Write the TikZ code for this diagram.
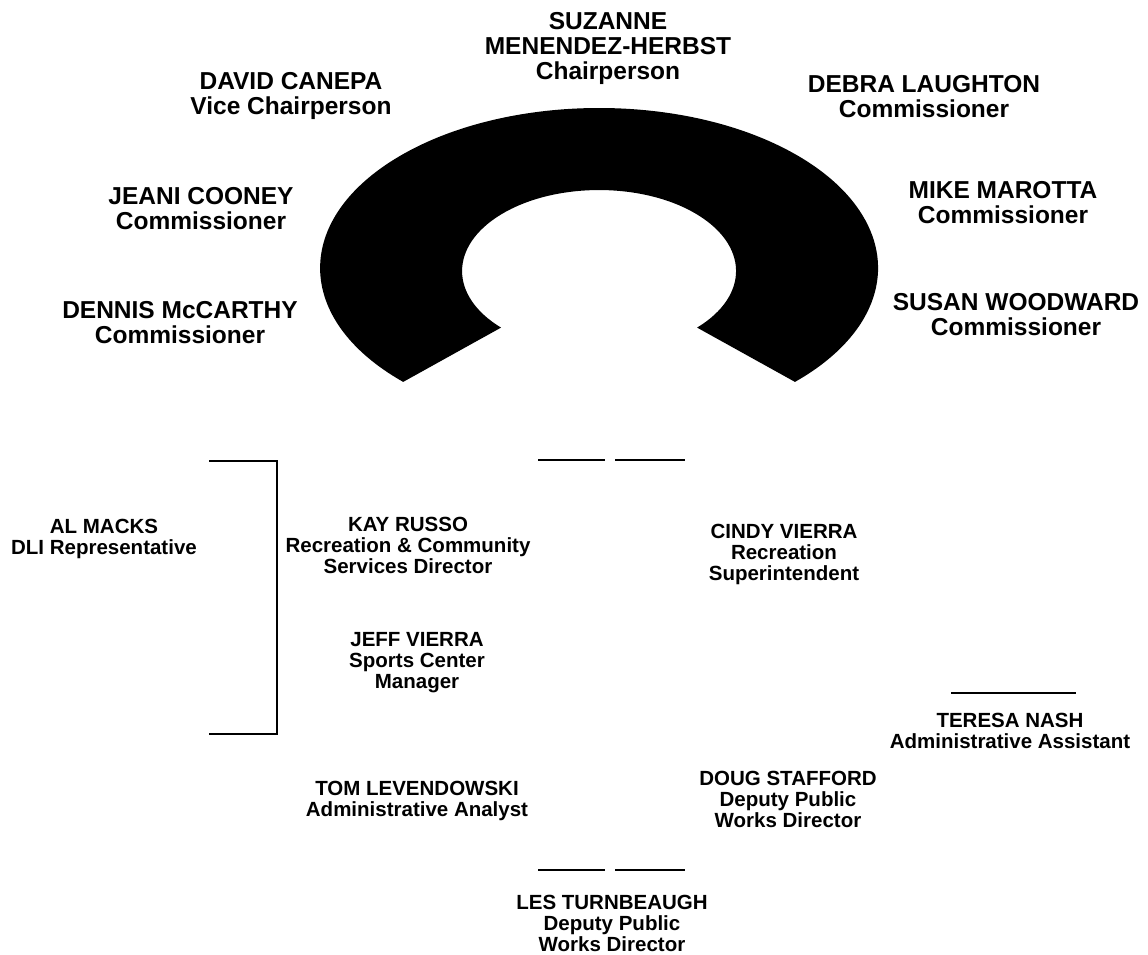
\documentclass[tikz,border=0pt]{standalone}
\usepackage{fontspec}
\setmainfont{Liberation Sans}
\begin{document}
\begin{tikzpicture}[x=1pt,y=-1pt,
  big/.style={font=\fontsize{24.5}{25}\selectfont\bfseries, align=center, inner sep=0pt, anchor=north},
  small/.style={font=\fontsize{20.5}{21}\selectfont\bfseries, align=center, inner sep=0pt, anchor=north},
  rule/.style={line width=2pt, line cap=butt}]
\useasboundingbox (0,0) rectangle (1148,954);
% horseshoe
\fill[black] (403.2,381.9) arc[start angle=134.6, end angle=405.4, x radius=279, y radius=160]
  -- (697.1,327.6) arc[start angle=44.3, end angle=-224.3, x radius=137, y radius=81] -- cycle;
% commission
\node[big] (suz) at (608,12) {SUZANNE\\MENENDEZ-HERBST\\Chairperson};
\node[big] (david) at (291,72) {DAVID CANEPA\\Vice Chairperson};
\node[big] (debra) at (924,75) {DEBRA LAUGHTON\\Commissioner};
\node[big] (jeani) at (201,187) {JEANI COONEY\\Commissioner};
\node[big] (mike) at (1003,181) {MIKE MAROTTA\\Commissioner};
\node[big] (dennis) at (180,301) {DENNIS McCARTHY\\Commissioner};
\node[big] (susan) at (1016,293) {SUSAN WOODWARD\\Commissioner};
% staff
\node[small] (al) at (104,518.5) {AL MACKS\\DLI Representative};
\node[small] (kay) at (408,516.5) {KAY RUSSO\\Recreation \& Community\\Services Director};
\node[small] (jeff) at (417,632.5) {JEFF VIERRA\\Sports Center\\Manager};
\node[small] (cindy) at (784,523.5) {CINDY VIERRA\\Recreation\\Superintendent};
\node[small] (teresa) at (1010,712.5) {TERESA NASH\\Administrative Assistant};
\node[small] (tom) at (417,780.5) {TOM LEVENDOWSKI\\Administrative Analyst};
\node[small] (doug) at (788,770.5) {DOUG STAFFORD\\Deputy Public\\Works Director};
\node[small] (les) at (612,894.5) {LES TURNBEAUGH\\Deputy Public\\Works Director};
% lines
\coordinate (brTL) at (209,461);
\coordinate (brTR) at (277,461);
\coordinate (brBR) at (277,734);
\coordinate (brBL) at (209,734);
\draw[rule] (brTL) -- (brTR) -- (brBR) -- (brBL);
\coordinate (t1a) at (538,460); \coordinate (t1b) at (605,460);
\coordinate (t2a) at (615,460); \coordinate (t2b) at (685,460);
\draw[rule] (t1a) -- (t1b);
\draw[rule] (t2a) -- (t2b);
\coordinate (n1a) at (951,693); \coordinate (n1b) at (1076,693);
\draw[rule] (n1a) -- (n1b);
\coordinate (b1a) at (538,870); \coordinate (b1b) at (605,870);
\coordinate (b2a) at (615,870); \coordinate (b2b) at (685,870);
\draw[rule] (b1a) -- (b1b);
\draw[rule] (b2a) -- (b2b);
\end{tikzpicture}
\end{document}
